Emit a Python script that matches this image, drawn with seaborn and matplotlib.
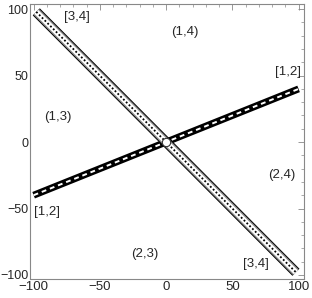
import numpy as np
import pandas as pd
import matplotlib
matplotlib.use('Agg')
import matplotlib.pyplot as plt
import seaborn as sns
from matplotlib.ticker import MultipleLocator

# line [1,2]: y = 0.4 x ; line [3,4]: y = -x
x12 = [-100, 100]
y12 = [-40, 40]
x34 = [-98, 98]
y34 = [98, -98]

region_labels = ['[3,4]', '(1,4)', '[1,2]', '(1,3)', '[1,2]', '(2,3)', '(2,4)', '[3,4]']
label_x = [-67, 14, 92, -82, -90, -16, 87, 68]
label_y = [94, 83, 53, 19, -53, -84, -25, -92]

sns.set_style('white')
plt.rcParams['font.family'] = ['Liberation Sans', 'DejaVu Sans']

fig = plt.figure(figsize=(3.12, 2.98), dpi=100)
ax = fig.add_axes([0.095, 0.064, 0.879, 0.923])

d12 = pd.DataFrame({'x': x12, 'y': y12})
d34 = pd.DataFrame({'x': x34, 'y': y34})

# [1,2]: thick black band with white dashes
sns.lineplot(data=d12, x='x', y='y', ax=ax, color='black', lw=5, sort=False, solid_capstyle='butt')
sns.lineplot(data=d12, x='x', y='y', ax=ax, color='white', lw=1.4, sort=False,
             linestyle=(0, (2.5, 2)))

# [3,4]: double outlined band with dotted centre
sns.lineplot(data=d34, x='x', y='y', ax=ax, color='black', lw=7.2, sort=False, solid_capstyle='butt')
sns.lineplot(data=d34, x='x', y='y', ax=ax, color='#8f8f8f', lw=5.8, sort=False, solid_capstyle='butt')
sns.lineplot(data=d34, x='x', y='y', ax=ax, color='white', lw=3.9, sort=False, solid_capstyle='butt')
sns.lineplot(data=d34, x='x', y='y', ax=ax, color='black', lw=1.3, sort=False,
             linestyle=(0, (1, 1.2)))

# small oval at the crossing
ax.plot([0], [0], marker='o', ms=6, mfc='white', mec='#333333', mew=0.8)

for t, lx, ly in zip(region_labels, label_x, label_y):
    ax.text(lx, ly, t, ha='center', va='center', fontsize=9.5)

ax.set_xlim(-103, 104)
ax.set_ylim(-103, 104)
ax.set_xlabel('')
ax.set_ylabel('')
ax.set_xticks([-100, -50, 0, 50, 100])
ax.set_yticks([-100, -50, 0, 50, 100])
ax.xaxis.set_minor_locator(MultipleLocator(10))
ax.yaxis.set_minor_locator(MultipleLocator(10))
ax.tick_params(which='both', direction='in', top=True, right=True, color='#888888',
               labelsize=9.5, pad=1.5)
ax.tick_params(axis='y', labelsize=9, pad=1)
ax.tick_params(which='major', length=4, width=0.6)
ax.tick_params(which='minor', length=2, width=0.5)
for s in ax.spines.values():
    s.set_color('#888888')
    s.set_linewidth(0.8)

fig.savefig('out.png', dpi=100)
